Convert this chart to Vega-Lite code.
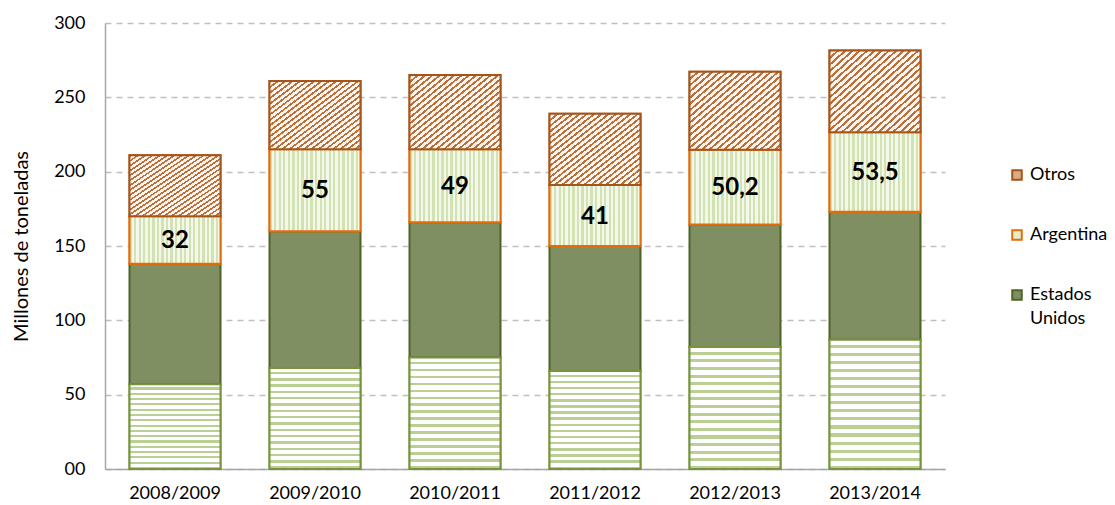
{
  "$schema": "https://vega.github.io/schema/vega-lite/v6.json",
  "width": 840,
  "height": 446,
  "autosize": {"type": "none"},
  "padding": {"left": 105, "top": 23, "right": 170, "bottom": 36},
  "background": "white",
  "config": {
    "font": "Lato",
    "view": {"stroke": null},
    "style": {"guide-label": {"lineHeight": 24}}
  },
  "data": {
    "values": [
      {"year": "2008/2009", "series": "Brasil", "value": 57, "order": 1, "label": ""},
      {"year": "2008/2009", "series": "Estados Unidos", "value": 81, "order": 2, "label": ""},
      {"year": "2008/2009", "series": "Argentina", "value": 32, "order": 3, "label": "32"},
      {"year": "2008/2009", "series": "Otros", "value": 41, "order": 4, "label": ""},
      {"year": "2009/2010", "series": "Brasil", "value": 68, "order": 1, "label": ""},
      {"year": "2009/2010", "series": "Estados Unidos", "value": 92, "order": 2, "label": ""},
      {"year": "2009/2010", "series": "Argentina", "value": 55, "order": 3, "label": "55"},
      {"year": "2009/2010", "series": "Otros", "value": 46, "order": 4, "label": ""},
      {"year": "2010/2011", "series": "Brasil", "value": 75, "order": 1, "label": ""},
      {"year": "2010/2011", "series": "Estados Unidos", "value": 91, "order": 2, "label": ""},
      {"year": "2010/2011", "series": "Argentina", "value": 49, "order": 3, "label": "49"},
      {"year": "2010/2011", "series": "Otros", "value": 50, "order": 4, "label": ""},
      {"year": "2011/2012", "series": "Brasil", "value": 66, "order": 1, "label": ""},
      {"year": "2011/2012", "series": "Estados Unidos", "value": 84, "order": 2, "label": ""},
      {"year": "2011/2012", "series": "Argentina", "value": 41, "order": 3, "label": "41"},
      {"year": "2011/2012", "series": "Otros", "value": 48, "order": 4, "label": ""},
      {"year": "2012/2013", "series": "Brasil", "value": 82, "order": 1, "label": ""},
      {"year": "2012/2013", "series": "Estados Unidos", "value": 82.5, "order": 2, "label": ""},
      {"year": "2012/2013", "series": "Argentina", "value": 50.2, "order": 3, "label": "50,2"},
      {"year": "2012/2013", "series": "Otros", "value": 52.5, "order": 4, "label": ""},
      {"year": "2013/2014", "series": "Brasil", "value": 87, "order": 1, "label": ""},
      {"year": "2013/2014", "series": "Estados Unidos", "value": 86, "order": 2, "label": ""},
      {"year": "2013/2014", "series": "Argentina", "value": 53.5, "order": 3, "label": "53,5"},
      {"year": "2013/2014", "series": "Otros", "value": 55, "order": 4, "label": ""}
    ]
  },
  "layer": [
    {
      "mark": {"type": "bar", "strokeWidth": 2},
      "encoding": {
        "x": {
          "field": "year", "type": "nominal",
          "scale": {"paddingInner": 0.35, "paddingOuter": 0.175},
          "axis": {
            "title": null, "labelAngle": 0, "ticks": false,
            "domainColor": "#a6a6a6", "domainWidth": 1.5,
            "labelFontSize": 18, "labelColor": "#000000", "labelPadding": 15
          }
        },
        "y": {
          "field": "value", "type": "quantitative", "stack": "zero",
          "scale": {"domain": [0, 300], "nice": false},
          "axis": {
            "title": "Millones de toneladas", "titleFontSize": 20, "titleFontWeight": "normal",
            "titleColor": "#000000", "titlePadding": 22,
            "values": [0, 50, 100, 150, 200, 250, 300],
            "labelExpr": "datum.value == 0 ? '00' : datum.label",
            "ticks": false, "labelPadding": 20, "labelFontSize": 18, "labelColor": "#000000",
            "domainColor": "#a6a6a6", "domainWidth": 1.5,
            "grid": true, "gridColor": "#c0c0c0", "gridDash": [6, 5], "gridWidth": 1.5
          }
        },
        "order": {"field": "order", "type": "quantitative"},
        "fill": {
          "field": "series", "type": "nominal",
          "scale": {
            "domain": ["Otros", "Argentina", "Estados Unidos", "Brasil"],
            "range": ["#dcab88", "#e3edcf", "#7f8f62", "#edf2e3"]
          },
          "legend": {
            "title": null, "values": ["Otros", "Argentina", "Estados Unidos"],
            "orient": "none", "legendX": 903, "legendY": 143,
            "symbolType": "square", "symbolSize": 90, "symbolStrokeWidth": 2,
            "labelFontSize": 18, "labelColor": "#000000", "rowPadding": 42,
            "labelExpr": "datum.label == 'Estados Unidos' ? ['Estados', 'Unidos'] : datum.label"
          }
        },
        "stroke": {
          "field": "series", "type": "nominal",
          "scale": {
            "domain": ["Otros", "Argentina", "Estados Unidos", "Brasil"],
            "range": ["#a5541a", "#e46c0a", "#4f6228", "#77933c"]
          },
          "legend": {
            "title": null, "values": ["Otros", "Argentina", "Estados Unidos"],
            "orient": "none", "legendX": 903, "legendY": 143,
            "symbolType": "square", "symbolSize": 90, "symbolStrokeWidth": 2,
            "labelFontSize": 18, "labelColor": "#000000", "rowPadding": 42,
            "labelExpr": "datum.label == 'Estados Unidos' ? ['Estados', 'Unidos'] : datum.label"
          }
        }
      }
    },
    {
      "transform": [
        {"stack": "value", "groupby": ["year"], "sort": [{"field": "order"}], "as": ["v0", "v1"]},
        {"filter": "datum.series == 'Brasil'"}
      ],
      "mark": {
        "type": "bar", "stroke": "#77933c", "strokeWidth": 2,
        "fill": {
          "gradient": "linear", "x1": 0, "y1": 0, "x2": 0, "y2": 1,
          "stops": [
            {"offset": 0, "color": "#ffffff"}, {"offset": 0.0375, "color": "#ffffff"},
            {"offset": 0.0375, "color": "#b9cf94"}, {"offset": 0.0625, "color": "#b9cf94"},
            {"offset": 0.0625, "color": "#ffffff"}, {"offset": 0.1, "color": "#ffffff"},
            {"offset": 0.1, "color": "#b9cf94"}, {"offset": 0.125, "color": "#b9cf94"},
            {"offset": 0.125, "color": "#ffffff"}, {"offset": 0.1625, "color": "#ffffff"},
            {"offset": 0.1625, "color": "#b9cf94"}, {"offset": 0.1875, "color": "#b9cf94"},
            {"offset": 0.1875, "color": "#ffffff"}, {"offset": 0.225, "color": "#ffffff"},
            {"offset": 0.225, "color": "#b9cf94"}, {"offset": 0.25, "color": "#b9cf94"},
            {"offset": 0.25, "color": "#ffffff"}, {"offset": 0.2875, "color": "#ffffff"},
            {"offset": 0.2875, "color": "#b9cf94"}, {"offset": 0.3125, "color": "#b9cf94"},
            {"offset": 0.3125, "color": "#ffffff"}, {"offset": 0.35, "color": "#ffffff"},
            {"offset": 0.35, "color": "#b9cf94"}, {"offset": 0.375, "color": "#b9cf94"},
            {"offset": 0.375, "color": "#ffffff"}, {"offset": 0.4125, "color": "#ffffff"},
            {"offset": 0.4125, "color": "#b9cf94"}, {"offset": 0.4375, "color": "#b9cf94"},
            {"offset": 0.4375, "color": "#ffffff"}, {"offset": 0.475, "color": "#ffffff"},
            {"offset": 0.475, "color": "#b9cf94"}, {"offset": 0.5, "color": "#b9cf94"},
            {"offset": 0.5, "color": "#ffffff"}, {"offset": 0.5375, "color": "#ffffff"},
            {"offset": 0.5375, "color": "#b9cf94"}, {"offset": 0.5625, "color": "#b9cf94"},
            {"offset": 0.5625, "color": "#ffffff"}, {"offset": 0.6, "color": "#ffffff"},
            {"offset": 0.6, "color": "#b9cf94"}, {"offset": 0.625, "color": "#b9cf94"},
            {"offset": 0.625, "color": "#ffffff"}, {"offset": 0.6625, "color": "#ffffff"},
            {"offset": 0.6625, "color": "#b9cf94"}, {"offset": 0.6875, "color": "#b9cf94"},
            {"offset": 0.6875, "color": "#ffffff"}, {"offset": 0.725, "color": "#ffffff"},
            {"offset": 0.725, "color": "#b9cf94"}, {"offset": 0.75, "color": "#b9cf94"},
            {"offset": 0.75, "color": "#ffffff"}, {"offset": 0.7875, "color": "#ffffff"},
            {"offset": 0.7875, "color": "#b9cf94"}, {"offset": 0.8125, "color": "#b9cf94"},
            {"offset": 0.8125, "color": "#ffffff"}, {"offset": 0.85, "color": "#ffffff"},
            {"offset": 0.85, "color": "#b9cf94"}, {"offset": 0.875, "color": "#b9cf94"},
            {"offset": 0.875, "color": "#ffffff"}, {"offset": 0.9125, "color": "#ffffff"},
            {"offset": 0.9125, "color": "#b9cf94"}, {"offset": 0.9375, "color": "#b9cf94"},
            {"offset": 0.9375, "color": "#ffffff"}, {"offset": 0.975, "color": "#ffffff"},
            {"offset": 0.975, "color": "#b9cf94"}, {"offset": 1, "color": "#b9cf94"}
          ]
        }
      },
      "encoding": {
        "x": {"field": "year", "type": "nominal"},
        "y": {"field": "v0", "type": "quantitative"},
        "y2": {"field": "v1"}
      }
    },
    {
      "transform": [
        {"stack": "value", "groupby": ["year"], "sort": [{"field": "order"}], "as": ["v0", "v1"]},
        {"filter": "datum.series == 'Argentina'"}
      ],
      "mark": {
        "type": "bar", "stroke": "#e46c0a", "strokeWidth": 2,
        "fill": {
          "gradient": "linear", "x1": 0, "y1": 0, "x2": 1, "y2": 0,
          "stops": [
            {"offset": 0, "color": "#d3e2b3"}, {"offset": 0.025, "color": "#d3e2b3"},
            {"offset": 0.025, "color": "#f3f8ea"}, {"offset": 0.05, "color": "#f3f8ea"},
            {"offset": 0.05, "color": "#d3e2b3"}, {"offset": 0.075, "color": "#d3e2b3"},
            {"offset": 0.075, "color": "#f3f8ea"}, {"offset": 0.1, "color": "#f3f8ea"},
            {"offset": 0.1, "color": "#d3e2b3"}, {"offset": 0.125, "color": "#d3e2b3"},
            {"offset": 0.125, "color": "#f3f8ea"}, {"offset": 0.15, "color": "#f3f8ea"},
            {"offset": 0.15, "color": "#d3e2b3"}, {"offset": 0.175, "color": "#d3e2b3"},
            {"offset": 0.175, "color": "#f3f8ea"}, {"offset": 0.2, "color": "#f3f8ea"},
            {"offset": 0.2, "color": "#d3e2b3"}, {"offset": 0.225, "color": "#d3e2b3"},
            {"offset": 0.225, "color": "#f3f8ea"}, {"offset": 0.25, "color": "#f3f8ea"},
            {"offset": 0.25, "color": "#d3e2b3"}, {"offset": 0.275, "color": "#d3e2b3"},
            {"offset": 0.275, "color": "#f3f8ea"}, {"offset": 0.3, "color": "#f3f8ea"},
            {"offset": 0.3, "color": "#d3e2b3"}, {"offset": 0.325, "color": "#d3e2b3"},
            {"offset": 0.325, "color": "#f3f8ea"}, {"offset": 0.35, "color": "#f3f8ea"},
            {"offset": 0.35, "color": "#d3e2b3"}, {"offset": 0.375, "color": "#d3e2b3"},
            {"offset": 0.375, "color": "#f3f8ea"}, {"offset": 0.4, "color": "#f3f8ea"},
            {"offset": 0.4, "color": "#d3e2b3"}, {"offset": 0.425, "color": "#d3e2b3"},
            {"offset": 0.425, "color": "#f3f8ea"}, {"offset": 0.45, "color": "#f3f8ea"},
            {"offset": 0.45, "color": "#d3e2b3"}, {"offset": 0.475, "color": "#d3e2b3"},
            {"offset": 0.475, "color": "#f3f8ea"}, {"offset": 0.5, "color": "#f3f8ea"},
            {"offset": 0.5, "color": "#d3e2b3"}, {"offset": 0.525, "color": "#d3e2b3"},
            {"offset": 0.525, "color": "#f3f8ea"}, {"offset": 0.55, "color": "#f3f8ea"},
            {"offset": 0.55, "color": "#d3e2b3"}, {"offset": 0.575, "color": "#d3e2b3"},
            {"offset": 0.575, "color": "#f3f8ea"}, {"offset": 0.6, "color": "#f3f8ea"},
            {"offset": 0.6, "color": "#d3e2b3"}, {"offset": 0.625, "color": "#d3e2b3"},
            {"offset": 0.625, "color": "#f3f8ea"}, {"offset": 0.65, "color": "#f3f8ea"},
            {"offset": 0.65, "color": "#d3e2b3"}, {"offset": 0.675, "color": "#d3e2b3"},
            {"offset": 0.675, "color": "#f3f8ea"}, {"offset": 0.7, "color": "#f3f8ea"},
            {"offset": 0.7, "color": "#d3e2b3"}, {"offset": 0.725, "color": "#d3e2b3"},
            {"offset": 0.725, "color": "#f3f8ea"}, {"offset": 0.75, "color": "#f3f8ea"},
            {"offset": 0.75, "color": "#d3e2b3"}, {"offset": 0.775, "color": "#d3e2b3"},
            {"offset": 0.775, "color": "#f3f8ea"}, {"offset": 0.8, "color": "#f3f8ea"},
            {"offset": 0.8, "color": "#d3e2b3"}, {"offset": 0.825, "color": "#d3e2b3"},
            {"offset": 0.825, "color": "#f3f8ea"}, {"offset": 0.85, "color": "#f3f8ea"},
            {"offset": 0.85, "color": "#d3e2b3"}, {"offset": 0.875, "color": "#d3e2b3"},
            {"offset": 0.875, "color": "#f3f8ea"}, {"offset": 0.9, "color": "#f3f8ea"},
            {"offset": 0.9, "color": "#d3e2b3"}, {"offset": 0.925, "color": "#d3e2b3"},
            {"offset": 0.925, "color": "#f3f8ea"}, {"offset": 0.95, "color": "#f3f8ea"},
            {"offset": 0.95, "color": "#d3e2b3"}, {"offset": 0.975, "color": "#d3e2b3"},
            {"offset": 0.975, "color": "#f3f8ea"}, {"offset": 1, "color": "#f3f8ea"}
          ]
        }
      },
      "encoding": {
        "x": {"field": "year", "type": "nominal"},
        "y": {"field": "v0", "type": "quantitative"},
        "y2": {"field": "v1"}
      }
    },
    {
      "transform": [
        {"stack": "value", "groupby": ["year"], "sort": [{"field": "order"}], "as": ["v0", "v1"]},
        {"filter": "datum.series == 'Otros'"}
      ],
      "mark": {
        "type": "bar", "stroke": "#a5541a", "strokeWidth": 2,
        "fill": {
          "gradient": "linear", "x1": 0, "y1": 0, "x2": 1, "y2": 1,
          "stops": [
            {"offset": 0, "color": "#bb7039"}, {"offset": 0.016, "color": "#bb7039"},
            {"offset": 0.016, "color": "#fcf5ef"}, {"offset": 0.04, "color": "#fcf5ef"},
            {"offset": 0.04, "color": "#bb7039"}, {"offset": 0.056, "color": "#bb7039"},
            {"offset": 0.056, "color": "#fcf5ef"}, {"offset": 0.08, "color": "#fcf5ef"},
            {"offset": 0.08, "color": "#bb7039"}, {"offset": 0.096, "color": "#bb7039"},
            {"offset": 0.096, "color": "#fcf5ef"}, {"offset": 0.12, "color": "#fcf5ef"},
            {"offset": 0.12, "color": "#bb7039"}, {"offset": 0.136, "color": "#bb7039"},
            {"offset": 0.136, "color": "#fcf5ef"}, {"offset": 0.16, "color": "#fcf5ef"},
            {"offset": 0.16, "color": "#bb7039"}, {"offset": 0.176, "color": "#bb7039"},
            {"offset": 0.176, "color": "#fcf5ef"}, {"offset": 0.2, "color": "#fcf5ef"},
            {"offset": 0.2, "color": "#bb7039"}, {"offset": 0.216, "color": "#bb7039"},
            {"offset": 0.216, "color": "#fcf5ef"}, {"offset": 0.24, "color": "#fcf5ef"},
            {"offset": 0.24, "color": "#bb7039"}, {"offset": 0.256, "color": "#bb7039"},
            {"offset": 0.256, "color": "#fcf5ef"}, {"offset": 0.28, "color": "#fcf5ef"},
            {"offset": 0.28, "color": "#bb7039"}, {"offset": 0.296, "color": "#bb7039"},
            {"offset": 0.296, "color": "#fcf5ef"}, {"offset": 0.32, "color": "#fcf5ef"},
            {"offset": 0.32, "color": "#bb7039"}, {"offset": 0.336, "color": "#bb7039"},
            {"offset": 0.336, "color": "#fcf5ef"}, {"offset": 0.36, "color": "#fcf5ef"},
            {"offset": 0.36, "color": "#bb7039"}, {"offset": 0.376, "color": "#bb7039"},
            {"offset": 0.376, "color": "#fcf5ef"}, {"offset": 0.4, "color": "#fcf5ef"},
            {"offset": 0.4, "color": "#bb7039"}, {"offset": 0.416, "color": "#bb7039"},
            {"offset": 0.416, "color": "#fcf5ef"}, {"offset": 0.44, "color": "#fcf5ef"},
            {"offset": 0.44, "color": "#bb7039"}, {"offset": 0.456, "color": "#bb7039"},
            {"offset": 0.456, "color": "#fcf5ef"}, {"offset": 0.48, "color": "#fcf5ef"},
            {"offset": 0.48, "color": "#bb7039"}, {"offset": 0.496, "color": "#bb7039"},
            {"offset": 0.496, "color": "#fcf5ef"}, {"offset": 0.52, "color": "#fcf5ef"},
            {"offset": 0.52, "color": "#bb7039"}, {"offset": 0.536, "color": "#bb7039"},
            {"offset": 0.536, "color": "#fcf5ef"}, {"offset": 0.56, "color": "#fcf5ef"},
            {"offset": 0.56, "color": "#bb7039"}, {"offset": 0.576, "color": "#bb7039"},
            {"offset": 0.576, "color": "#fcf5ef"}, {"offset": 0.6, "color": "#fcf5ef"},
            {"offset": 0.6, "color": "#bb7039"}, {"offset": 0.616, "color": "#bb7039"},
            {"offset": 0.616, "color": "#fcf5ef"}, {"offset": 0.64, "color": "#fcf5ef"},
            {"offset": 0.64, "color": "#bb7039"}, {"offset": 0.656, "color": "#bb7039"},
            {"offset": 0.656, "color": "#fcf5ef"}, {"offset": 0.68, "color": "#fcf5ef"},
            {"offset": 0.68, "color": "#bb7039"}, {"offset": 0.696, "color": "#bb7039"},
            {"offset": 0.696, "color": "#fcf5ef"}, {"offset": 0.72, "color": "#fcf5ef"},
            {"offset": 0.72, "color": "#bb7039"}, {"offset": 0.736, "color": "#bb7039"},
            {"offset": 0.736, "color": "#fcf5ef"}, {"offset": 0.76, "color": "#fcf5ef"},
            {"offset": 0.76, "color": "#bb7039"}, {"offset": 0.776, "color": "#bb7039"},
            {"offset": 0.776, "color": "#fcf5ef"}, {"offset": 0.8, "color": "#fcf5ef"},
            {"offset": 0.8, "color": "#bb7039"}, {"offset": 0.816, "color": "#bb7039"},
            {"offset": 0.816, "color": "#fcf5ef"}, {"offset": 0.84, "color": "#fcf5ef"},
            {"offset": 0.84, "color": "#bb7039"}, {"offset": 0.856, "color": "#bb7039"},
            {"offset": 0.856, "color": "#fcf5ef"}, {"offset": 0.88, "color": "#fcf5ef"},
            {"offset": 0.88, "color": "#bb7039"}, {"offset": 0.896, "color": "#bb7039"},
            {"offset": 0.896, "color": "#fcf5ef"}, {"offset": 0.92, "color": "#fcf5ef"},
            {"offset": 0.92, "color": "#bb7039"}, {"offset": 0.936, "color": "#bb7039"},
            {"offset": 0.936, "color": "#fcf5ef"}, {"offset": 0.96, "color": "#fcf5ef"},
            {"offset": 0.96, "color": "#bb7039"}, {"offset": 0.976, "color": "#bb7039"},
            {"offset": 0.976, "color": "#fcf5ef"}, {"offset": 1, "color": "#fcf5ef"}
          ]
        }
      },
      "encoding": {
        "x": {"field": "year", "type": "nominal"},
        "y": {"field": "v0", "type": "quantitative"},
        "y2": {"field": "v1"}
      }
    },
    {
      "transform": [
        {"stack": "value", "groupby": ["year"], "sort": [{"field": "order"}], "as": ["v0", "v1"]},
        {"filter": "datum.series == 'Argentina'"},
        {"calculate": "(datum.v0 + datum.v1) / 2", "as": "mid"}
      ],
      "mark": {"type": "text", "fontSize": 24, "fontWeight": "bold", "color": "#000000", "baseline": "middle", "dy": 1},
      "encoding": {
        "x": {"field": "year", "type": "nominal"},
        "y": {"field": "mid", "type": "quantitative"},
        "text": {"field": "label"}
      }
    }
  ]
}
